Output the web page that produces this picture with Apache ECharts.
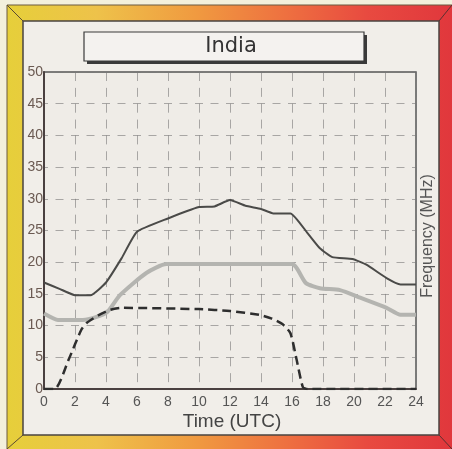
<!DOCTYPE html>
<html>
<head>
<meta charset="utf-8">
<script src="https://cdn.jsdelivr.net/npm/echarts@6/dist/echarts.min.js"></script>
<style>
  html, body { margin: 0; padding: 0; background: #f3f0dc; }
  #chart { width: 452px; height: 449px; }
</style>
</head>
<body>
<div id="chart"></div>
<script>
/* ================================
   DATA
================================ */
const title = "India";

// upper curve (dark solid)
const upperHours = [0, 1, 2, 3, 4, 5, 6, 8, 10, 11, 12, 13, 14, 14.8, 15.9, 17, 17.8, 18.6, 19.9, 20.8, 22.1, 23, 24];
const upperFreq  = [16.8, 15.8, 14.8, 14.8, 16.8, 20.6, 24.8, 26.9, 28.7, 28.8, 29.8, 28.9, 28.4, 27.7, 27.7, 24.6, 22.2, 20.8, 20.5, 19.6, 17.5, 16.5, 16.5];

// middle curve (thick light grey)
const middleHours = [0, 0.9, 2.5, 3.3, 4.1, 4.9, 6.6, 7.9, 16, 16.9, 17.8, 19.1, 20.4, 22.1, 23, 24];
const middleFreq  = [11.9, 10.9, 10.9, 11.3, 12.2, 14.8, 18.3, 19.7, 19.7, 16.7, 15.9, 15.6, 14.4, 12.8, 11.7, 11.7];

// lower curve (dashed)
const lowerHours = [0, 0.7, 1.6, 2.4, 2.75, 3.5, 4.3, 5, 10, 12, 13.9, 14.7, 15.4, 15.9, 16.3, 16.7, 17, 24];
const lowerFreq  = [0, 0, 4.7, 9.3, 10.4, 11.6, 12.5, 12.8, 12.6, 12.3, 11.7, 11.1, 10.2, 8.8, 4.6, 0.3, 0, 0];

const xTicks = [0, 2, 4, 6, 8, 10, 12, 14, 16, 18, 20, 22, 24];
const yTicks = [0, 5, 10, 15, 20, 25, 30, 35, 40, 45, 50];

const pairs = (xs, ys) => xs.map((x, i) => [x, ys[i]]);

/* ================================
   FRAME + PANEL (decoration)
================================ */
const FONT = "Liberation Sans";
const WIDE = "DejaVu Sans";
const frameGrad = new echarts.graphic.LinearGradient(0, 0, 1, 0, [
  { offset: 0, color: "#e6cf3a" },
  { offset: 0.2, color: "#eec24a" },
  { offset: 0.42, color: "#f09a40" },
  { offset: 0.62, color: "#ee7040" },
  { offset: 0.8, color: "#e84a40" },
  { offset: 1, color: "#e0363c" }
]);

const decor = [
  { type: "rect", z: -20, shape: { x: 7, y: 5, width: 450, height: 450 },
    style: { fill: frameGrad, stroke: "#6a5a40", lineWidth: 1 } },
  // bevel diagonals
  { type: "line", z: -18, shape: { x1: 7, y1: 5, x2: 23, y2: 21 }, style: { stroke: "#5a4a30", lineWidth: 1 } },
  { type: "line", z: -18, shape: { x1: 452, y1: 5, x2: 439, y2: 21 }, style: { stroke: "#5a3030", lineWidth: 1 } },
  { type: "line", z: -18, shape: { x1: 7, y1: 449, x2: 23, y2: 435 }, style: { stroke: "#5a4a30", lineWidth: 1 } },
  { type: "line", z: -18, shape: { x1: 452, y1: 449, x2: 439, y2: 435 }, style: { stroke: "#5a3030", lineWidth: 1 } },
  // inner panel
  { type: "rect", z: -17, shape: { x: 23, y: 21, width: 416, height: 414 },
    style: { fill: "#f1eee9", stroke: "#4a4440", lineWidth: 1.5 } },
  // title box with shadow
  { type: "rect", z: -16, shape: { x: 87, y: 35, width: 280, height: 29 }, style: { fill: "#3a3a3a" } },
  { type: "rect", z: -15, shape: { x: 84, y: 32, width: 280, height: 29 },
    style: { fill: "#f4f2ef", stroke: "#3a3a3a", lineWidth: 1.2 } },
  { type: "text", z: 10, x: 231, y: 47,
    style: { text: title, fontFamily: WIDE, fontSize: 21, fill: "#333", align: "center", verticalAlign: "middle" } },
  { type: "text", z: 10, x: 232, y: 422,
    style: { text: "Time (UTC)", fontFamily: FONT, fontSize: 19, fill: "#444", align: "center", verticalAlign: "middle" } },
  { type: "text", z: 10, x: 428, y: 236, rotation: Math.PI / 2,
    style: { text: "Frequency (MHz)", fontFamily: FONT, fontSize: 16, fill: "#555", align: "center", verticalAlign: "middle" } }
];

/* ================================
   CHART
================================ */
const chart = echarts.init(document.getElementById("chart"), null, { renderer: "canvas" });

chart.setOption({
  animation: false,
  backgroundColor: "#f3f0dc",
  graphic: decor,
  grid: {
    left: 44, right: 36, top: 72, bottom: 60,
    show: true, backgroundColor: "#efece7", borderColor: "#555", borderWidth: 1.5
  },
  xAxis: {
    type: "value", min: 0, max: 24, interval: 2,
    axisLine: { show: true, onZero: false, lineStyle: { color: "#4a4040", width: 2 } },
    axisTick: { show: false },
    axisLabel: { color: "#555", fontSize: 14, fontFamily: FONT, margin: 6,
      formatter: v => xTicks.includes(v) ? String(v) : "" },
    splitLine: { show: true, lineStyle: { color: "rgba(120,120,120,0.6)", width: 1, type: [9, 6.85] } }
  },
  yAxis: {
    type: "value", min: 0, max: 50, interval: 5,
    axisLine: { show: true, lineStyle: { color: "#4a4040", width: 2 } },
    axisTick: { show: false },
    axisLabel: { color: "#6b5a52", fontSize: 14, fontFamily: FONT, margin: 1,
      formatter: v => yTicks.includes(v) ? String(v) : "" },
    splitLine: { show: true, lineStyle: { color: "rgba(120,120,120,0.6)", width: 1, type: [8, 7.5], dashOffset: 4 } }
  },
  series: [
    {
      type: "line", data: pairs(middleHours, middleFreq), symbol: "none", smooth: 0.2,
      lineStyle: { color: "#b4b4b0", width: 4 }, z: 3
    },
    {
      type: "line", data: pairs(upperHours, upperFreq), symbol: "none", smooth: 0.15,
      lineStyle: { color: "#4a4a48", width: 2 }, z: 4
    },
    {
      type: "line", data: pairs(lowerHours, lowerFreq), symbol: "none", smooth: 0.2,
      lineStyle: { color: "#2e2e2e", width: 2.5, type: [9, 5] }, z: 5
    }
  ]
});
</script>
</body>
</html>
